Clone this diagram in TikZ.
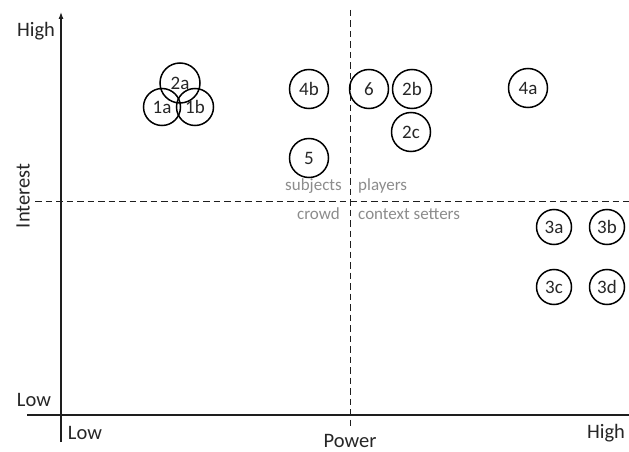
\documentclass[tikz,border=0pt]{standalone}
\usepackage{fontspec}
\setmainfont{Carlito}
\usetikzlibrary{arrows.meta}
\definecolor{qgray}{RGB}{140,140,140}
\definecolor{axisc}{RGB}{30,30,30}
\tikzset{
  stake/.style={circle,draw=black,line width=1.5pt,minimum size=39pt,inner sep=0pt,
    font=\fontsize{19}{21}\selectfont,text=black!85},
  stakesm/.style={stake,minimum size=35pt},
  axislbl/.style={inner sep=0pt,font=\fontsize{20.5}{24}\selectfont,text=black!85},
  quadlbl/.style={inner sep=0pt,font=\fontsize{17}{20}\selectfont,text=qgray},
  axisline/.style={draw=axisc,line width=1.1pt},
  divline/.style={draw=axisc,line width=0.9pt,dash pattern=on 6.5pt off 4pt},
}
\begin{document}
\begin{tikzpicture}[x=1pt,y=-1pt]
\useasboundingbox (0,0) rectangle (629,452);
% axes
\coordinate (yb) at (61,442);
\coordinate (yt) at (61,12);
\coordinate (xl) at (27,415);
\coordinate (xr) at (629,415);
\draw[axisline,-{Latex[length=7pt,width=5pt]}] (yb) -- (yt);
\draw[axisline] (xl) -- (xr);
% dividers
\coordinate (vt) at (350,10);
\coordinate (vb) at (350,428);
\coordinate (hl) at (35,201);
\coordinate (hr) at (629,201);
\draw[divline] (vt) -- (vb);
\draw[divline] (hl) -- (hr);
% axis labels
\node[axislbl] (hi) at (36,31) {High};
\node[axislbl] (lo) at (34,400) {Low};
\node[axislbl,rotate=90] (interest) at (23,196) {Interest};
\node[axislbl] (lox) at (85,433) {Low};
\node[axislbl] (power) at (350,441) {Power};
\node[axislbl] (hix) at (606,433) {High};
% quadrant labels
\node[quadlbl,anchor=east] (subj) at (342,186) {subjects};
\node[quadlbl,anchor=west] (play) at (358,186) {players};
\node[quadlbl,anchor=east] (crowd) at (340,214) {crowd};
\node[quadlbl,anchor=west] (ctx) at (358,214) {context setters};
% stakeholders
\node[stake,minimum size=40pt] (s2a) at (180,83) {2a};
\node[stake,minimum size=37pt] (s1a) at (162,107) {1a};
\node[stake,minimum size=37pt] (s1b) at (195,107) {1b};
\node[stake] (s4b) at (309,89) {4b};
\node[stake] (s6) at (369,89) {6};
\node[stake] (s2b) at (412,89) {2b};
\node[stake] (s2c) at (411,132) {2c};
\node[stake] (s5) at (309,158) {5};
\node[stake] (s4a) at (528,88) {4a};
\node[stakesm] (s3a) at (554,227) {3a};
\node[stakesm] (s3b) at (607,227) {3b};
\node[stakesm] (s3c) at (554,287) {3c};
\node[stakesm] (s3d) at (607,287) {3d};
\end{tikzpicture}
\end{document}
